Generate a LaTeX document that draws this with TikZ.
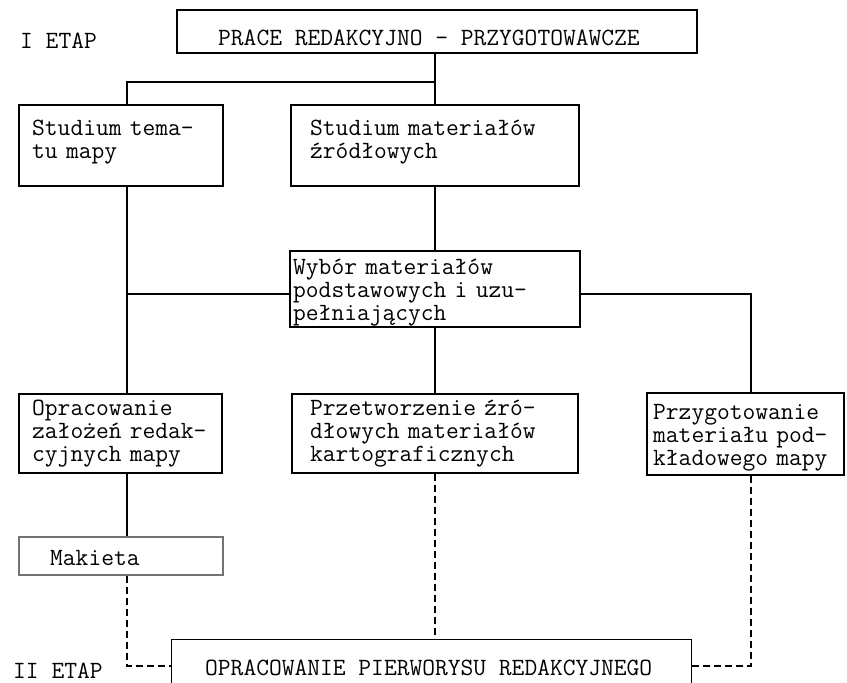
\documentclass[tikz,border=0pt]{standalone}
\usepackage{fontspec}
\begin{document}
\begin{tikzpicture}[x=1pt,y=-1pt,
  box/.style={draw, rectangle, inner sep=0pt, line width=1.3pt},
  txt/.style={inner sep=0pt, anchor=base west, align=left,
    font=\fontsize{24.8}{23}\selectfont\ttfamily},
  conn/.style={line width=1.2pt},
  dconn/.style={line width=1.1pt, dash pattern=on 7pt off 4pt}]
\useasboundingbox (0,0) rectangle (847,683);
% columns / rows
\coordinate (lc) at (127,0);
\coordinate (rc) at (751,0);
\coordinate (hy) at (0,294);
\coordinate (dy) at (0,666);
\coordinate (ty) at (0,82);
% boxes
\node[box, minimum width=520pt, minimum height=43pt] (top) at (437,31.5) {};
\node[box, minimum width=204pt, minimum height=81pt] (st) at (121,145.5) {};
\node[box, minimum width=288pt, minimum height=81pt] (sm) at (435,145.5) {};
\node[box, minimum width=290pt, minimum height=76pt] (wy) at (435,289) {};
\node[box, minimum width=203pt, minimum height=79pt] (op) at (120.5,433.5) {};
\node[box, minimum width=286pt, minimum height=79pt] (pr) at (435,433.5) {};
\node[box, minimum width=197pt, minimum height=82pt] (pg) at (745.5,434) {};
\node[box, draw=black!55, minimum width=204pt, minimum height=38pt] (mk) at (121,556) {};
\node[inner sep=0pt, minimum width=519pt, minimum height=43pt] (ow) at (431.5,661.5) {};
\draw[line width=1.3pt] (ow.south west) -- (ow.north west) -- (ow.north east) -- (ow.south east);
% texts
\node[txt] (t1) at (20,48) {I ETAP};
\node[txt] (t2) at (13,678) {II ETAP};
\node[txt] (ttop) at (218,45) {PRACE REDAKCYJNO - PRZYGOTOWAWCZE};
\node[txt, text width=190pt] (tst) at (32,135) {Studium tema-\\tu mapy};
\node[txt, text width=265pt] (tsm) at (310,135) {Studium materiałów\\źródłowych};
\node[txt, text width=285pt] (twy) at (293,274) {Wybór materiałów\\podstawowych i uzu-\\pełniających};
\node[txt, text width=195pt] (top2) at (32,415) {Opracowanie\\założeń redak-\\cyjnych mapy};
\node[txt, text width=265pt] (tpr) at (310,415) {Przetworzenie źró-\\dłowych materiałów\\kartograficznych};
\node[txt, text width=195pt] (tpg) at (653,419) {Przygotowanie\\materiału pod-\\kładowego mapy};
\node[txt] (tmk) at (50,565) {Makieta};
\node[txt] (tow) at (205,675) {OPRACOWANIE PIERWORYSU REDAKCYJNEGO};
% connectors
\draw[conn] (top.south -| sm.north) -- (sm.north);
\draw[conn] (sm.north |- ty) -| (st.north -| lc);
\draw[conn] (sm.south) -- (wy.north);
\draw[conn] (st.south -| lc) -- (op.north -| lc);
\draw[conn] (wy.west |- hy) -- (lc |- hy);
\draw[conn] (wy.east |- hy) -| (pg.north -| rc);
\draw[conn] (wy.south) -- (pr.north);
\draw[conn] (op.south -| lc) -- (mk.north -| lc);
\draw[dconn] (mk.south -| lc) |- (ow.west |- dy);
\draw[dconn] (pr.south) -- (pr.south |- ow.north);
\draw[dconn] (pg.south -| rc) |- (ow.east |- dy);
\end{tikzpicture}
\end{document}
